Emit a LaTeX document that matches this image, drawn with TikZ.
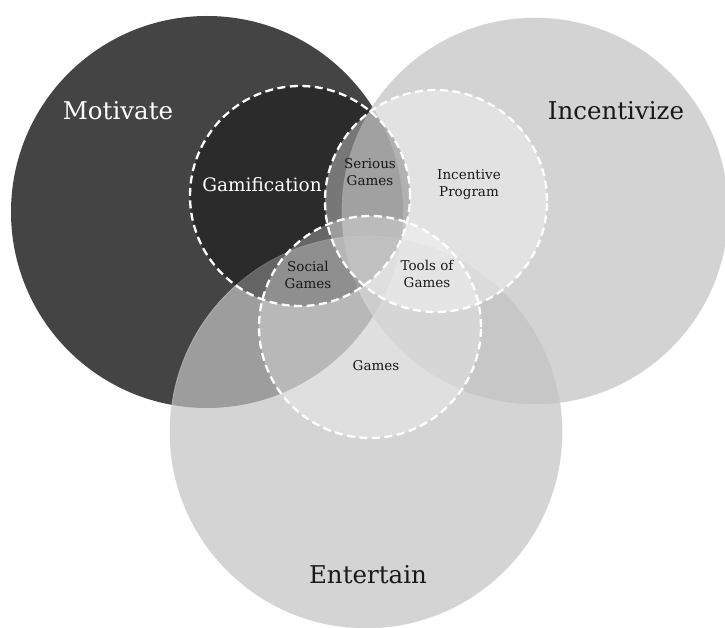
\documentclass[tikz,border=0pt]{standalone}
\usepackage{fontspec}
\setmainfont{DejaVu Serif}
\definecolor{motivatefill}{gray}{0.267}
\definecolor{incentfill}{gray}{0.78}
\definecolor{entertainfill}{gray}{0.765}
\definecolor{inkdark}{gray}{0.1}
\definecolor{rimgray}{gray}{0.82}
\begin{document}
\begin{tikzpicture}[x=1pt,y=-1pt,
    dashring/.style={draw=white,line width=2.3pt,dash pattern=on 8pt off 4.5pt},
    biglabel/.style={font=\fontsize{24.5}{28}\selectfont,inner sep=0pt},
    midlabel/.style={font=\fontsize{18.5}{22}\selectfont,inner sep=0pt},
    smalllabel/.style={font=\fontsize{13.5}{17}\selectfont,align=center,inner sep=0pt,text=inkdark}]
  \useasboundingbox (0,0) rectangle (725,628);
  \fill[white] (0,0) rectangle (725,628);

  % centres of the three main sets
  \coordinate (motC) at (207,212);
  \coordinate (incC) at (535,211);
  \coordinate (entC) at (366,432);
  % centres of the dashed sub-sets
  \coordinate (gamC) at (300,196);
  \coordinate (ipC)  at (436,201);
  \coordinate (gmsC) at (370,327);

  % main sets
  \fill[motivatefill] (motC) circle[radius=196pt];
  \fill[incentfill,fill opacity=0.78] (incC) circle[radius=193pt];
  \draw[rimgray,line width=0.8pt,draw opacity=0.5] (incC) circle[radius=193pt];
  \fill[entertainfill,fill opacity=0.7] (entC) circle[radius=196pt];
  \draw[rimgray,line width=0.8pt,draw opacity=0.6] (entC) circle[radius=196pt];

  % dashed sub-sets
  \fill[black,fill opacity=0.36] (gamC) circle[radius=110pt];
  \fill[white,fill opacity=0.36] (ipC) circle[radius=111pt];
  \fill[white,fill opacity=0.28] (gmsC) circle[radius=111pt];
  \draw[dashring] (gamC) circle[radius=110pt];
  \draw[dashring] (ipC) circle[radius=111pt];
  \draw[dashring] (gmsC) circle[radius=111pt];

  % labels
  \node[biglabel,text=white] (motivate) at (118,111) {Motivate};
  \node[biglabel,text=inkdark] (incentivize) at (616,111) {Incentivize};
  \node[biglabel,text=inkdark] (entertain) at (368,575) {Entertain};
  \node[midlabel,text=white] (gamification) at (262,185) {Gamification};
  \node[smalllabel] (serious) at (370,172) {Serious\\Games};
  \node[smalllabel] (incprog) at (469,185) {Incentive\\Program};
  \node[smalllabel] (social) at (308,275) {Social\\Games};
  \node[smalllabel] (tools) at (427,274) {Tools of\\Games};
  \node[smalllabel] (games) at (376,366) {Games};
\end{tikzpicture}
\end{document}
